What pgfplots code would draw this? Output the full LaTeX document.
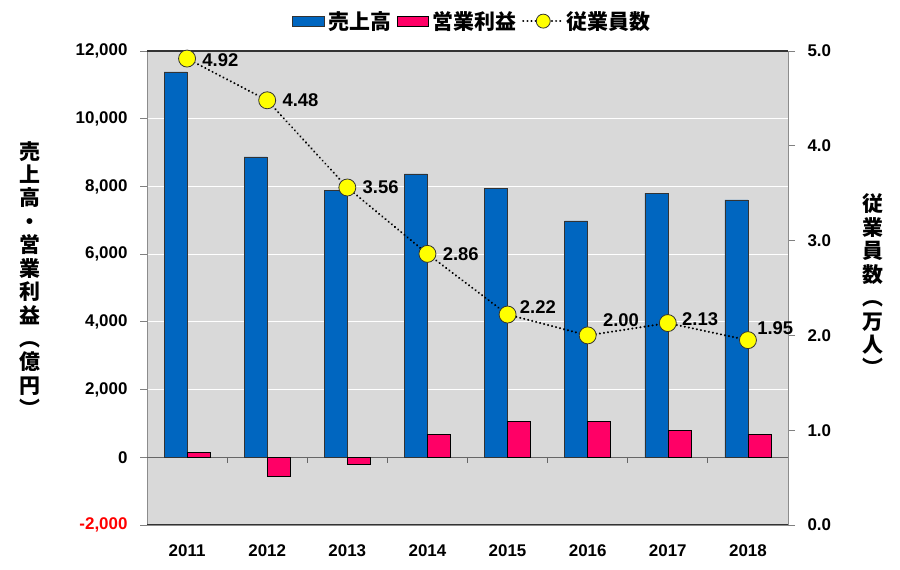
\documentclass[border=0pt]{standalone}
\usepackage{pgfplots}
\usepackage{pgfplotstable}
\pgfplotsset{compat=1.18}
\usepackage{fontspec}
\setmainfont{Liberation Sans}
\newfontfamily\cjk{Noto Sans CJK JP}
\definecolor{uriage}{HTML}{0066C0}
\definecolor{rieki}{HTML}{FF0066}
\definecolor{haikei}{HTML}{D9D9D9}
\definecolor{kiiro}{HTML}{FFFF00}

\pgfplotstableread{
x sales profit
0 11380 150
1 8870 -550
2 7880 -200
3 8370 680
4 7950 1050
5 6980 1050
6 7800 800
7 7600 680
}\kessan

% employees (10k persons); dx, dy = offset of the value label
\pgfplotstableread{
x emp lab dx dy
0 4.92 4.92 14 -2
1 4.48 4.48 14 0
2 3.56 3.56 14 0
3 2.86 2.86 14 0
4 2.22 2.22 11 7
5 2.00 2.00 14 15
6 2.13 2.13 13 4
7 1.95 1.95 8 12
}\jugyoin

\begin{document}
\begin{tikzpicture}[x=1bp,y=1bp]
\useasboundingbox (0,0) rectangle (900,570);
% bars: sales and operating profit (left axis)
\begin{axis}[
  at={(147bp,45bp)}, anchor=south west,
  width=641bp, height=474bp, scale only axis,
  xmin=-0.5, xmax=7.5, ymin=-2000, ymax=12000,
  scaled y ticks=false,
  axis background/.style={fill=haikei},
  axis line style={black!45, line width=0.8bp},
  ybar=0pt, bar width=23bp,
  xtick={0,...,7},
  xticklabels={2011,2012,2013,2014,2015,2016,2017,2018},
  major x tick style={draw=none},
  x tick label style={font=\bfseries\fontsize{17}{17}\selectfont, yshift=-9bp},
  ytick={-2000,0,2000,4000,6000,8000,10000,12000},
  yticklabels={{\textcolor{red}{-2,000}},0,{2,000},{4,000},{6,000},{8,000},{10,000},{12,000}},
  ytick pos=left, tick align=outside, major tick length=7bp,
  y tick style={black!50, line width=0.8bp},
  y tick label style={font=\bfseries\fontsize{17}{17}\selectfont, xshift=-9bp},
  ymajorgrids, major grid style={white, line width=1.2bp},
  extra y ticks={0}, extra y tick labels={},
  extra y tick style={grid=major, major grid style={black!60, line width=1bp}},
]
\pgfplotsinvokeforeach{0.5,1.5,...,6.5}{\draw[black!60, line width=0.8bp] (axis cs:#1,0) -- ([yshift=-6bp]axis cs:#1,0);}
\addplot[fill=uriage, draw=black!80, line width=0.6bp] table[x=x, y=sales] {\kessan};
\addplot[fill=rieki, draw=black, line width=0.6bp] table[x=x, y=profit] {\kessan};
\draw[black!80, line width=1.2bp] (rel axis cs:0,1) -- (rel axis cs:1,1);
\draw[black!80, line width=1.2bp] (rel axis cs:0,0) -- (rel axis cs:1,0);
\end{axis}
% line: employees (right axis)
\begin{axis}[
  at={(147bp,45bp)}, anchor=south west,
  width=641bp, height=474bp, scale only axis,
  xmin=-0.5, xmax=7.5, ymin=0, ymax=5,
  axis x line=none, axis y line*=right,
  axis line style={black!45, line width=0.8bp},
  ytick={0,1,2,3,4,5},
  yticklabels={0.0,1.0,2.0,3.0,4.0,5.0},
  tick align=outside, major tick length=7bp,
  y tick style={black!50, line width=0.8bp},
  y tick label style={font=\bfseries\fontsize{17}{17}\selectfont, xshift=9bp},
  legend style={at={(0.507,1.063)}, anchor=center, draw=none, fill=none,
    font=\cjk\bfseries\fontsize{21}{21}\selectfont,
    /tikz/every even column/.append style={column sep=4bp},
    /tikz/every odd column/.append style={column sep=2bp}},
  legend columns=3,
]
\addlegendimage{legend image code/.code={\fill[uriage, draw=black!80] (0bp,-5bp) rectangle (32bp,5bp);}}
\addlegendentry{売上高}
\addlegendimage{legend image code/.code={\fill[rieki, draw=black] (0bp,-5bp) rectangle (31bp,5bp);}}
\addlegendentry{営業利益}
\addplot[black, dash pattern=on 0.1bp off 4bp, line cap=round, line width=2.2bp,
  mark=*, mark size=8.5bp, mark options={solid, fill=kiiro, draw=black!80, line width=0.8bp},
  point meta=explicit symbolic,
  visualization depends on={\thisrow{dx} \as \dx},
  visualization depends on={\thisrow{dy} \as \dy},
  nodes near coords={\pgfplotspointmeta},
  nodes near coords style={anchor=west, xshift=\dx bp, yshift=\dy bp, inner sep=1bp,
    font=\bfseries\fontsize{18.5}{18.5}\selectfont, black},
  legend image code/.code={\draw[dash pattern=on 0.1bp off 4bp, line cap=round, line width=2.2bp] (0bp,0) -- (38bp,0);
    \draw[solid, fill=kiiro, draw=black!80, line width=0.8bp] (20bp,0) circle (7bp);},
] table[x=x, y=emp, meta=lab] {\jugyoin};
\addlegendentry{従業員数}
\end{axis}
\node[font=\cjk\bfseries\fontsize{21}{23.5}\selectfont, align=center, inner sep=0] at (30,291)
  {売\\上\\高\\・\\営\\業\\利\\益\\︵\\億\\円\\︶};
\node[font=\cjk\bfseries\fontsize{21}{23.5}\selectfont, align=center, inner sep=0] at (873,285)
  {従\\業\\員\\数\\︵\\万\\人\\︶};
\end{tikzpicture}
\end{document}
